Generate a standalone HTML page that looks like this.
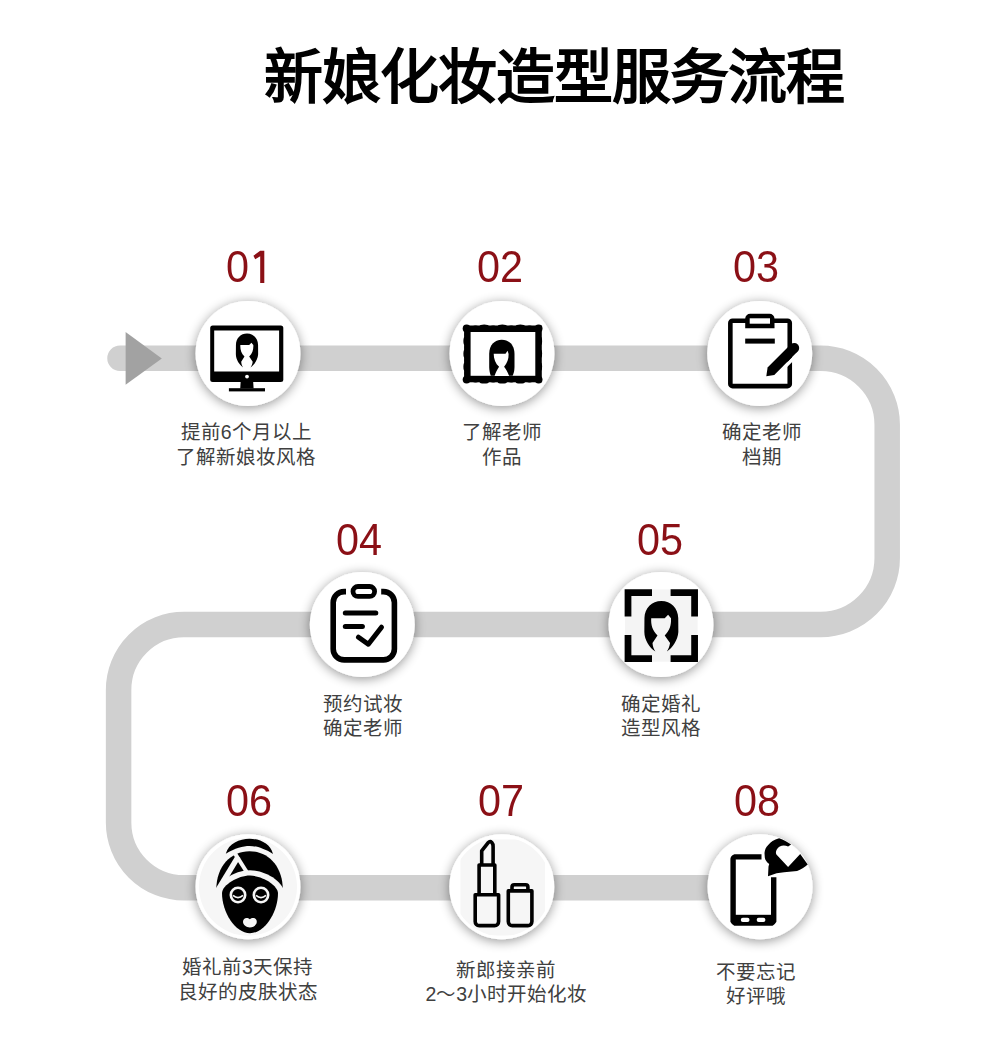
<!DOCTYPE html>
<html lang="zh-CN">
<head>
<meta charset="utf-8">
<style>
html,body{margin:0;padding:0;background:#fff;}
body{width:996px;height:1039px;position:relative;overflow:hidden;font-family:"Liberation Sans",sans-serif;}
.title{position:absolute;left:264px;top:40px;font-size:59px;font-weight:700;letter-spacing:-1px;color:#000;line-height:76px;white-space:nowrap;}
.num{position:absolute;font-size:45px;color:#8b1016;line-height:50px;transform:scaleX(0.92);transform-origin:0 0;white-space:nowrap;}
.lbl{position:absolute;width:240px;text-align:center;font-size:19.5px;font-weight:300;color:#404040;line-height:24.2px;white-space:nowrap;}
svg{position:absolute;left:0;top:0;}
</style>
</head>
<body>
<div class="title">新娘化妆造型服务流程</div>

<svg width="996" height="1039" viewBox="0 0 996 1039">
<defs>
<filter id="sh" x="-40%" y="-40%" width="180%" height="180%">
<feGaussianBlur in="SourceAlpha" stdDeviation="6"/>
<feOffset dy="2" result="b"/>
<feComponentTransfer><feFuncA type="linear" slope="0.42"/></feComponentTransfer>
<feMerge><feMergeNode/><feMergeNode in="SourceGraphic"/></feMerge>
</filter>
<path id="head" d="M0 0 C9.5 0 16.7 7 16.9 17 L17 31 C16.5 39 11 47 5.45 50.6 L-5.95 50.6 C-11.5 47 -17 39 -17 31 L-16.9 17 C-16.7 7 -9.5 0 0 0 Z M-10.15 17.3 L3.35 17.3 L6.75 13.9 L9.65 17.3 C10 24 8.5 29.5 3.35 34.5 L8.7 42 C8.2 45.5 7 48.5 5.45 50.6 L-5.95 50.6 C-7.5 48.5 -8.6 45.5 -8.85 42 L-3.85 34.5 C-9 29.5 -10.5 24 -10.15 17.3 Z" fill="#000" fill-rule="evenodd"/>
</defs>
<path d="M120 358.25 H820.5 A66.5 66.5 0 0 1 887.2 424.9 V558 A66.5 66.5 0 0 1 820.5 624.5 H184 A65.4 65.4 0 0 0 118.6 690 V822.4 A65.4 65.4 0 0 0 184 887.8 H760" fill="none" stroke="#d0d0d0" stroke-width="25.5" stroke-linecap="round"/>
<polygon points="125.6,332 161.8,358.4 125.6,384.7" fill="#a2a2a2"/>

<g filter="url(#sh)" fill="#fff">
<circle cx="248" cy="353.6" r="52.5"/>
<circle cx="502" cy="353.6" r="52.5"/>
<circle cx="759.7" cy="353.5" r="52.5"/>
<circle cx="362.3" cy="624.6" r="52.5"/>
<circle cx="661" cy="624.6" r="52.5"/>
<circle cx="248" cy="886.7" r="52.5"/>
<circle cx="501.8" cy="886.7" r="52.5"/>
<circle cx="760" cy="886.7" r="52.5"/>
</g>


<path d="M260.2 250.8 H264.3 V283 H260.2 V256.3 L255.2 259.2 L253.4 255.8 Z" fill="#8b1016"/>
<!-- icon1 monitor -->
<g>
<rect x="210.2" y="325.4" width="73.1" height="56.6" rx="2.5" fill="#000"/>
<rect x="214.2" y="330.5" width="64.9" height="41" fill="#fff"/>
<circle cx="247" cy="376.6" r="1.9" fill="#fff"/>
<path d="M240.7 381 H253.1 L253.6 388.6 H240.2 Z" fill="#000"/>
<rect x="228.9" y="388.2" width="36.1" height="3.2" fill="#000"/>
<g transform="translate(247,333.5) scale(0.655,0.67)"><use href="#head"/></g>
</g>
<!-- icon2 frame -->
<g fill="#000">
<rect x="467.35" y="328.75" width="71.2" height="50.3" fill="none" stroke="#000" stroke-width="6.5"/>
<circle cx="466.6" cy="328.4" r="3.9"/><circle cx="538.6" cy="328.4" r="3.9"/>
<circle cx="466.6" cy="379.6" r="3.9"/><circle cx="538.6" cy="379.6" r="3.9"/>
<ellipse cx="475.5" cy="326.7" rx="2.5" ry="1.1"/>
<ellipse cx="475.5" cy="381.5" rx="2.5" ry="1.1"/>
<ellipse cx="484.2" cy="326.3" rx="4.6" ry="1.7"/>
<ellipse cx="484.2" cy="381.9" rx="4.6" ry="1.7"/>
<ellipse cx="493.2" cy="326.7" rx="2.5" ry="1.1"/>
<ellipse cx="493.2" cy="381.5" rx="2.5" ry="1.1"/>
<ellipse cx="502.3" cy="326.3" rx="4.6" ry="1.7"/>
<ellipse cx="502.3" cy="381.9" rx="4.6" ry="1.7"/>
<ellipse cx="511.3" cy="326.7" rx="2.5" ry="1.1"/>
<ellipse cx="511.3" cy="381.5" rx="2.5" ry="1.1"/>
<ellipse cx="520.3" cy="326.3" rx="4.6" ry="1.7"/>
<ellipse cx="520.3" cy="381.9" rx="4.6" ry="1.7"/>
<ellipse cx="529.5" cy="326.7" rx="2.5" ry="1.1"/>
<ellipse cx="529.5" cy="381.5" rx="2.5" ry="1.1"/>
<ellipse cx="465.6" cy="334.5" rx="1.1" ry="2.5"/>
<ellipse cx="539.9" cy="334.5" rx="1.1" ry="2.5"/>
<ellipse cx="465.1" cy="341" rx="1.7" ry="4.3"/>
<ellipse cx="540.4" cy="341" rx="1.7" ry="4.3"/>
<ellipse cx="465.6" cy="347.5" rx="1.1" ry="2.5"/>
<ellipse cx="539.9" cy="347.5" rx="1.1" ry="2.5"/>
<ellipse cx="465.1" cy="353.8" rx="1.7" ry="4.3"/>
<ellipse cx="540.4" cy="353.8" rx="1.7" ry="4.3"/>
<ellipse cx="465.6" cy="360.3" rx="1.1" ry="2.5"/>
<ellipse cx="539.9" cy="360.3" rx="1.1" ry="2.5"/>
<ellipse cx="465.1" cy="366.8" rx="1.7" ry="4.3"/>
<ellipse cx="540.4" cy="366.8" rx="1.7" ry="4.3"/>
<ellipse cx="465.6" cy="373.5" rx="1.1" ry="2.5"/>
<ellipse cx="539.9" cy="373.5" rx="1.1" ry="2.5"/>
<path d="M501.8 339.7 C509 339.7 514.5 345 514.5 354 L514.5 367 C514.5 371 513.5 374 512.6 375.8 L490.8 375.8 C489.8 373 489.2 370 489.2 367 L489.2 354 C489.2 345 494.5 339.7 501.8 339.7 Z"/>
<path d="M493.7 353.7 L505.5 353.7 L507.6 350.8 L508.6 354 C508.8 359 507 363.5 504.1 366.8 C506 369.5 508 372.5 509.1 375.9 L494.6 375.9 C495.5 372.5 497.5 369.5 499.1 366.8 C495.5 363.5 493.7 359 493.7 353.7 Z" fill="#fff"/>
</g>
<!-- icon3 clipboard pen -->
<g>
<rect x="730.35" y="320.8" width="59.4" height="65.3" rx="2.2" fill="none" stroke="#000" stroke-width="4.6"/>
<path d="M745.2 328.3 V318.8 A5 5 0 0 1 750.2 313.8 H769.5 A5 5 0 0 1 774.5 318.8 V328.3 Z" fill="#000"/>
<rect x="749.7" y="318.3" width="20.3" height="5.4" fill="#fff"/>
<rect x="745.2" y="338.6" width="29.6" height="5" fill="#000"/>
<line x1="775.6" y1="376.4" x2="798.4" y2="353.2" stroke="#fff" stroke-width="3.4"/>
<path d="M790.8 344.3 L767.6 367.5 L766.3 376.2 L774.3 375.1 L797.1 351.9 Z" fill="#000"/>
<circle cx="794.3" cy="348" r="4.9" fill="#000"/>
</g>
<!-- icon4 clipboard check -->
<g fill="none" stroke="#000" stroke-width="5.6" stroke-linecap="round" stroke-linejoin="round">
<path d="M346 591.6 H344.2 A11 11 0 0 0 333.2 602.6 V648.9 A11 11 0 0 0 344.2 659.9 H383.4 A11 11 0 0 0 394.4 648.9 V602.6 A11 11 0 0 0 383.4 591.6 H381.2" stroke-linecap="butt"/>
<rect x="353" y="586.5" width="21.6" height="9.9" rx="4.95" stroke-width="4.8"/>
<line x1="345.3" y1="613.1" x2="375.8" y2="613.1" stroke-width="5"/>
<line x1="345.3" y1="626.5" x2="362.4" y2="626.5" stroke-width="5"/>
<path d="M358.5 637.2 L368.3 644.2 L381.5 627.2" stroke-width="5"/>
</g>
<!-- icon5 brackets head -->
<g>
<rect x="625" y="589.5" width="72.6" height="72.2" fill="#f4f4f4"/>
<g fill="none" stroke="#000" stroke-width="6.75" stroke-linejoin="miter">
<path d="M652 592.5 H628 V616.5"/>
<path d="M670.6 592.5 H694.6 V616.5"/>
<path d="M628 635 V658.6 H652"/>
<path d="M694.6 635 V658.6 H670.6"/>
</g>
<g transform="translate(661.35,600.9)"><use href="#head"/></g>
</g>
<!-- icon6 face mask -->
<circle cx="248" cy="886.7" r="49" fill="#f6f6f6"/>
<g>
<path d="M216.3 889.5 C216.3 866 231 851.2 249.5 851.2 C268 851.2 282.8 866 282.8 889.8 Z" fill="#000"/>
<path d="M225.8 853.8 C228.5 843.5 239.5 838.8 249.5 838.8 C259.5 838.8 270.5 843.5 273 854 C263.5 848 256 846 249.5 846 C243 846 235 848 225.8 853.8 Z" fill="#000"/>
<path d="M233.6 851.4 L247.2 872.8" stroke="#f6f6f6" stroke-width="3.9"/>
<path d="M238.2 856.6 L217.4 891" stroke="#f6f6f6" stroke-width="5.4"/>
<path d="M215 895 C215.5 882 234 870.2 250 870.2 C266 870.2 284.5 882 285 895 L285 905 L215 905 Z" fill="#f6f6f6"/>
<path d="M222 893 C222.5 885 238 875.6 250 875.6 C262 875.6 277.5 885 278 893 C278 912 265 933.2 250 933.2 C235 933.2 222 912 222 893 Z" fill="#000"/>
<circle cx="238" cy="895" r="7.2" fill="none" stroke="#f6f6f6" stroke-width="2.6"/>
<circle cx="261" cy="895" r="7.2" fill="none" stroke="#f6f6f6" stroke-width="2.6"/>
<path d="M233 895.4 Q238 899.8 243 895.4" fill="none" stroke="#f6f6f6" stroke-width="1.8"/>
<path d="M256 895.4 Q261 899.8 266 895.4" fill="none" stroke="#f6f6f6" stroke-width="1.8"/>
<path d="M249.8 919.2 C247.5 917 243 917.5 243 921.8 C243 925.2 246.5 927.4 249.8 927.4 C253.2 927.4 256.8 925.2 256.8 921.8 C256.8 917.5 252.2 917 249.8 919.2 Z" fill="#f6f6f6"/>
</g>
<!-- icon7 lipstick -->
<clipPath id="c7"><circle cx="501.8" cy="886.7" r="49.5"/></clipPath>
<rect x="460.5" y="839.5" width="84.5" height="96" fill="#f6f6f6" clip-path="url(#c7)"/>
<g fill="none" stroke="#000" stroke-width="3.6" stroke-linejoin="round">
<path d="M475.2 894.7 H498.6 V921.5 A4 4 0 0 1 494.6 925.6 H479.2 A4 4 0 0 1 475.2 921.5 Z"/>
<path d="M479.1 894.7 V865 H494.8 V894.7"/>
<path d="M481.7 865 V850.8 L488 842.8 Q490 840.8 491.8 842.5 Q493.2 844 493.1 846.5 V865"/>
<path d="M508.3 890.9 H531.9 V921.5 A4 4 0 0 1 527.9 925.6 H512.3 A4 4 0 0 1 508.3 921.5 Z"/>
<path d="M512 890.9 V887 A2.2 2.2 0 0 1 514.2 884.8 H525.7 A2.2 2.2 0 0 1 527.9 887 V890.9"/>
</g>
<!-- icon8 phone -->
<g>
<path d="M761.5 856.9 H735 A4.8 2.8 0 0 0 733.1 859 V921 A4.8 4.8 0 0 0 735 923 H771.7 A4.8 4.8 0 0 0 773.7 921 V877.2" fill="none" stroke="#000" stroke-width="5.4"/>
<rect x="733" y="914.8" width="41" height="8.5" fill="#000"/>
<rect x="740.8" y="917.7" width="8.7" height="4.3" rx="2" fill="#fff"/>
<rect x="756.7" y="917.7" width="8.7" height="4.3" rx="2" fill="#fff"/>
<path d="M779.1 838.3 C783.5 839.8 787.5 842 791.1 844.5 L788.1 846.6 C784 844.2 779 845.5 776.8 849.5 C775.6 851.5 775.8 853.5 776.4 854.5 L788.1 867.1 L800.2 854.1 L807.7 864.6 C804.5 867.5 801 869.8 797.1 871.1 L784.1 872.2 L776.6 873.2 L768 876.2 L768.5 866.6 L769.2 864.1 C766.5 862 765 860 764.8 857.6 L764.5 853.1 C764.8 849.5 766 847 768 845.2 C770.5 842 774 839.8 779.1 838.3 Z" fill="#000"/>
</g>

</svg>

<div class="num" style="left:225.8px;top:241.7px">0</div>
<div class="num" style="left:476.8px;top:241.8px">02</div>
<div class="num" style="left:733.0px;top:241.8px">03</div>
<div class="num" style="left:336.2px;top:515.0px">04</div>
<div class="num" style="left:637.1px;top:515.2px">05</div>
<div class="num" style="left:225.9px;top:776.2px">06</div>
<div class="num" style="left:477.8px;top:776.2px">07</div>
<div class="num" style="left:734.0px;top:776.2px">08</div>

<div class="lbl" style="left:126.3px;top:420.4px">提前6个月以上<br>了解新娘妆风格</div>
<div class="lbl" style="left:381.6px;top:420.4px">了解老师<br>作品</div>
<div class="lbl" style="left:642.2px;top:420.4px">确定老师<br>档期</div>
<div class="lbl" style="left:243.0px;top:691.6px">预约试妆<br>确定老师</div>
<div class="lbl" style="left:541.1px;top:691.6px">确定婚礼<br>造型风格</div>
<div class="lbl" style="left:127.5px;top:955.4px">婚礼前3天保持<br>良好的皮肤状态</div>
<div class="lbl" style="left:386.3px;top:958.2px">新郎接亲前<br>2～3小时开始化妆</div>
<div class="lbl" style="left:635.5px;top:959.6px">不要忘记<br>好评哦</div>
</body>
</html>
